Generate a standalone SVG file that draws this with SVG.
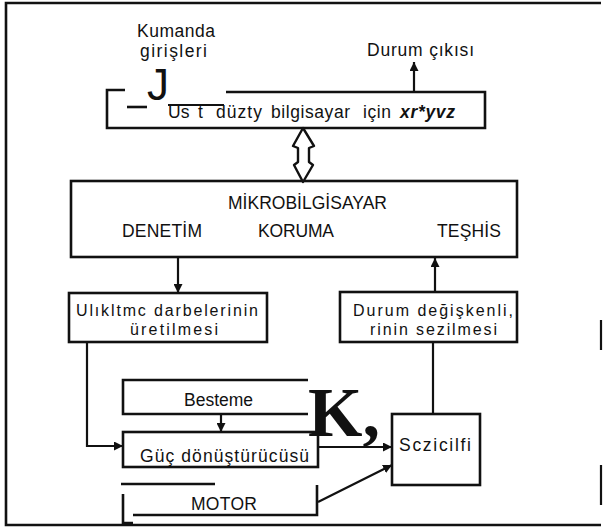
<svg xmlns="http://www.w3.org/2000/svg" width="605" height="529" viewBox="0 0 605 529">
<style>
  .box{fill:none;stroke:#111;stroke-width:2.6}
  .ln{fill:none;stroke:#111;stroke-width:2.2}
  .t{font-family:"Liberation Sans",Arial,sans-serif;font-size:17.5px;fill:#111}
  .s{font-size:16px}
  .bi{font-weight:bold;font-style:italic}
  .j{font-family:"Liberation Sans",Arial,sans-serif;font-size:44px;fill:#111}
  .k{font-family:"Liberation Serif","Times New Roman",serif;font-weight:bold;font-size:70px;fill:#111}
</style>
<defs>
  <marker id="ah" viewBox="0 0 10 10" refX="10" refY="5" markerWidth="9" markerHeight="9" markerUnits="userSpaceOnUse" orient="auto">
    <path d="M0,0 L10,5 L0,10 Z" fill="#111"/>
  </marker>
</defs>
<rect width="605" height="529" fill="#fff"/>
<g id="frame">
  <path class="box" d="M601,3 H6 V525 H601"/>
  <path class="ln" d="M601,320 V350 M601,465 V505"/>
</g>
<g id="commands">
  <text class="t" x="137" y="37" textLength="78" lengthAdjust="spacing">Kumanda</text>
  <text class="t" x="140" y="57" textLength="67" lengthAdjust="spacing">girişleri</text>
</g>
<g id="status-out">
  <text class="t" x="367" y="56" textLength="107" lengthAdjust="spacing">Durum çıkısı</text>
</g>
<g id="top-computer">
  <path class="box" d="M125,90 H107 V128 H485 V92 H226"/>
  <line class="box" x1="127" y1="107" x2="147" y2="107"/>
  <text class="j" x="147" y="100">J</text>
  <line class="ln" x1="168" y1="105" x2="224" y2="105" stroke-width="1.6"/>
  <text class="t" y="118"><tspan x="168">Us</tspan><tspan x="198">t</tspan><tspan x="216" textLength="46" lengthAdjust="spacing">düzty</tspan><tspan x="271" textLength="79" lengthAdjust="spacing">bilgisayar</tspan><tspan x="363" textLength="28" lengthAdjust="spacing">için</tspan><tspan class="bi" x="400" textLength="55" lengthAdjust="spacing">xr*yvz</tspan></text>
</g>
<g id="microcomputer">
  <rect class="box" x="71" y="181" width="446" height="76"/>
  <text class="t" x="228" y="209" textLength="159" lengthAdjust="spacing">MİKROBİLGİSAYAR</text>
  <text class="t" x="122" y="237" textLength="80" lengthAdjust="spacing">DENETİM</text>
  <text class="t" x="258" y="237" textLength="76" lengthAdjust="spacing">KORUMA</text>
  <text class="t" x="437" y="237" textLength="64" lengthAdjust="spacing">TEŞHİS</text>
</g>
<g id="pulse-gen">
  <rect class="box" x="69" y="293" width="198" height="49"/>
  <text class="t s" x="76" y="316" textLength="182" lengthAdjust="spacing">Ulıkltmc darbelerinin</text>
  <text class="t s" x="130" y="335" textLength="88" lengthAdjust="spacing">üretilmesi</text>
</g>
<g id="state-sense">
  <rect class="box" x="340" y="292" width="177" height="50"/>
  <text class="t s" x="353" y="316" textLength="160" lengthAdjust="spacing">Durum değişkenli,</text>
  <text class="t s" x="370" y="335" textLength="127" lengthAdjust="spacing">rinin sezilmesi</text>
</g>
<g id="supply">
  <path class="box" d="M308,380 H123 V414 H308"/>
  <text class="t" x="184" y="406" textLength="69" lengthAdjust="spacing">Besteme</text>
</g>
<g id="converter">
  <rect class="box" x="123" y="432" width="195" height="35"/>
  <text class="t" x="140" y="462" textLength="169" lengthAdjust="spacing">Güç   dönüştürücüsü</text>
</g>
<g id="motor">
  <path class="box" d="M121,484 H215 M123,494 V523 H133 M133,515 H317 V485"/>
  <text class="t" x="191" y="510" textLength="66" lengthAdjust="spacing">MOTOR</text>
</g>
<g id="sensors">
  <rect class="box" x="392" y="414" width="88" height="71"/>
  <text class="t" x="399" y="451" textLength="72" lengthAdjust="spacing">Sczicilfi</text>
</g>
<g id="mark">
  <text class="k" x="308" y="436">K,</text>
</g>
<g id="connectors">
  <line class="ln" x1="414" y1="92" x2="414" y2="62" marker-end="url(#ah)"/>
  <polygon points="303,128 293,146 298,148 298,162 294,165 303,182 313,165 309,162 309,148 314,146" fill="#fff" stroke="#111" stroke-width="2.4" stroke-linejoin="round"/>
  <line class="ln" x1="178" y1="258" x2="178" y2="293" marker-end="url(#ah)"/>
  <line class="ln" x1="435" y1="292" x2="435" y2="258" marker-end="url(#ah)"/>
  <polyline class="ln" points="87,342 87,446 123,446" marker-end="url(#ah)"/>
  <line class="ln" x1="221" y1="414" x2="221" y2="432" marker-end="url(#ah)"/>
  <line class="ln" x1="318" y1="447" x2="392" y2="447" marker-end="url(#ah)"/>
  <line class="ln" x1="318" y1="502" x2="392" y2="465" marker-end="url(#ah)"/>
  <line class="ln" x1="433" y1="342" x2="433" y2="414"/>
</g>
</svg>
